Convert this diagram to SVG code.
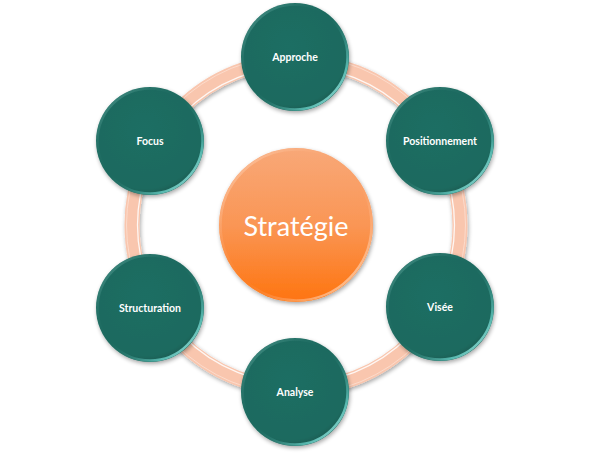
<svg xmlns="http://www.w3.org/2000/svg" width="591" height="453" viewBox="0 0 591 453">
<defs>
<linearGradient id="og" x1="0" y1="0" x2="0" y2="1">
<stop offset="0" stop-color="#F8A878"/>
<stop offset="0.5" stop-color="#FA9655"/>
<stop offset="1" stop-color="#FE740F"/>
</linearGradient>
<radialGradient id="tg" cx="0.45" cy="0.4" r="0.6">
<stop offset="0" stop-color="#1F6E63"/>
<stop offset="0.9" stop-color="#1D6A5F"/>
<stop offset="1" stop-color="#195E54"/>
</radialGradient>
<linearGradient id="rim" x1="0" y1="0" x2="1" y2="1">
<stop offset="0" stop-color="#8FD0C8" stop-opacity="0.5"/>
<stop offset="0.45" stop-color="#1D6A5F" stop-opacity="0"/>
<stop offset="0.8" stop-color="#5FC3BA" stop-opacity="0.9"/>
<stop offset="1" stop-color="#BFEFEA"/>
</linearGradient>
<linearGradient id="orim" x1="0" y1="0" x2="1" y2="1">
<stop offset="0" stop-color="#FFE0CC" stop-opacity="0.7"/>
<stop offset="0.5" stop-color="#FA9655" stop-opacity="0"/>
<stop offset="1" stop-color="#FFE8D6"/>
</linearGradient>
<filter id="sh" x="-20%" y="-20%" width="140%" height="140%">
<feGaussianBlur in="SourceAlpha" stdDeviation="2"/>
<feOffset dx="1" dy="2" result="b"/>
<feComponentTransfer><feFuncA type="linear" slope="0.35"/></feComponentTransfer>
<feMerge><feMergeNode/><feMergeNode in="SourceGraphic"/></feMerge>
</filter>
</defs>
<style>
.node{fill:url(#tg);filter:url(#sh)}
.rim{fill:none;stroke:url(#rim);stroke-width:2.5}
.lbl{font-family:Lato,"Liberation Sans",Arial,sans-serif;font-size:10.5px;font-weight:bold;fill:#FFFFFF;text-anchor:middle;dominant-baseline:central}
</style>
<g id="connectors">
<circle cx="296" cy="225" r="164" fill="none" stroke="#F9C6AE" stroke-width="15" filter="url(#sh)"/>
<circle cx="296" cy="225" r="158.5" fill="none" stroke="#FFFFFF" stroke-width="1.3" opacity="0.85"/>
<circle cx="296" cy="225" r="169.5" fill="none" stroke="#FCE0D2" stroke-width="1" opacity="0.8"/>
</g>
<g id="center">
<circle cx="296" cy="225" r="77" fill="url(#og)" filter="url(#sh)"/>
<circle cx="296" cy="225" r="75.5" fill="none" stroke="url(#orim)" stroke-width="2.5"/>
<text x="296" y="225" font-family="Lato, Liberation Sans, Arial, sans-serif" font-size="27" fill="#FFFFFF" text-anchor="middle" dominant-baseline="central">Stratégie</text>
</g>
<g id="approche">
<circle class="node" cx="295" cy="57" r="54"/>
<circle class="rim" cx="295" cy="57" r="52.5"/>
<text class="lbl" x="295" y="57">Approche</text>
</g>
<g id="positionnement">
<circle class="node" cx="440" cy="141" r="54"/>
<circle class="rim" cx="440" cy="141" r="52.5"/>
<text class="lbl" x="440" y="141">Positionnement</text>
</g>
<g id="visee">
<circle class="node" cx="440" cy="307" r="54"/>
<circle class="rim" cx="440" cy="307" r="52.5"/>
<text class="lbl" x="440" y="307">Visée</text>
</g>
<g id="analyse">
<circle class="node" cx="295" cy="392" r="54"/>
<circle class="rim" cx="295" cy="392" r="52.5"/>
<text class="lbl" x="295" y="392">Analyse</text>
</g>
<g id="structuration">
<circle class="node" cx="150" cy="308" r="54"/>
<circle class="rim" cx="150" cy="308" r="52.5"/>
<text class="lbl" x="150" y="308">Structuration</text>
</g>
<g id="focus">
<circle class="node" cx="150" cy="141" r="54"/>
<circle class="rim" cx="150" cy="141" r="52.5"/>
<text class="lbl" x="150" y="141">Focus</text>
</g>
</svg>
